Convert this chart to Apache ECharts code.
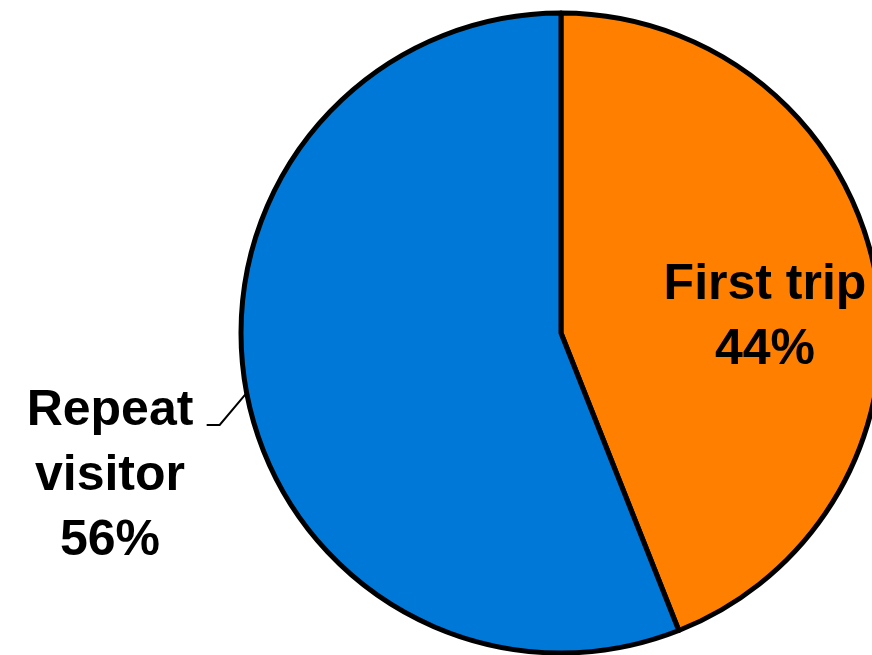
<!DOCTYPE html>
<html>
<head>
<meta charset="utf-8">
<script src="https://cdn.jsdelivr.net/npm/echarts@6/dist/echarts.min.js"></script>
<style>
html,body{margin:0;padding:0;background:#fff;}
#chart{width:872px;height:655px;}
</style>
</head>
<body>
<div id="chart"></div>
<script>
var categories = ['First trip', 'Repeat visitor'];
var values = [44, 56];
var labelTexts = ['First trip\n44%', 'Repeat\nvisitor\n56%'];
var colors = ['#ff7f00', '#0078d7'];

var chart = echarts.init(document.getElementById('chart'));
var data = categories.map(function (c, i) {
  return {
    name: c,
    value: values[i],
    itemStyle: { color: colors[i] },
    label: {
      position: i === 0 ? 'inside' : 'outside',
      formatter: labelTexts[i]
    },
    labelLine: { show: i === 1 }
  };
});

chart.setOption({
  animation: false,
  series: [{
    type: 'pie',
    center: [561, 333],
    radius: 320,
    startAngle: 90,
    clockwise: true,
    data: data,
    itemStyle: { borderColor: '#000', borderWidth: 5 },
    label: {
      show: true,
      color: '#000',
      fontFamily: 'Liberation Sans',
      fontWeight: 'bold',
      fontSize: 50,
      lineHeight: 65,
      align: 'center'
    },
    labelLine: {
      show: true,
      length: 20,
      length2: 15,
      lineStyle: { color: '#000', width: 2 }
    },
    labelLayout: function (p) {
      if (p.dataIndex === 0) {
        return { x: 765, y: 318, align: 'center', verticalAlign: 'middle' };
      }
      var s = p.labelLinePoints ? p.labelLinePoints[0] : [245, 393];
      return {
        x: 110, y: 476, align: 'center', verticalAlign: 'middle',
        labelLinePoints: [s, [s[0] - 27, s[1] + 32], [s[0] - 40, s[1] + 32]]
      };
    }
  }]
});
</script>
</body>
</html>
